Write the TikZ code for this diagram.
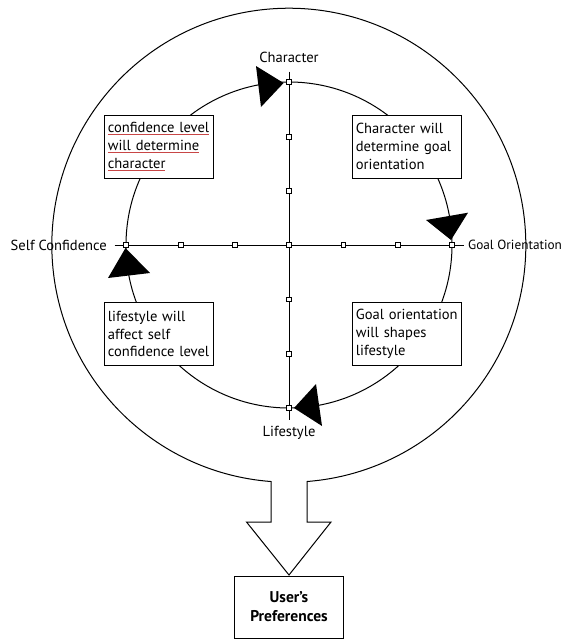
\documentclass[tikz,border=0pt]{standalone}
\usepackage{fontspec}
\setmainfont{PT Sans}
\definecolor{spellred}{RGB}{200,70,70}
\newcommand{\spellul}[1]{\textcolor{spellred}{\underline{\textcolor{black}{#1}}}}
\begin{document}
\begin{tikzpicture}[scale=0.35]
  \tikzstyle{every node}+=[inner sep=0pt, font=\fontsize{14.5}{17.7}\selectfont]
  \tikzstyle{note}=[draw=black, fill=white, line width=0.8pt, text width=3.58cm, inner xsep=0.125cm, minimum height=2.2cm, align=left]
  \tikzstyle{tick}=[draw=black, fill=white, line width=0.6pt, minimum size=0.17cm]
  \tikzstyle{head}=[fill=black]
  \useasboundingbox (0,0) rectangle (57,-63.9);
  % outer ring with the big arrow
  \draw [black, line width=1pt] (27.1,-48.15) -- (27.1,-52.2) -- (24.65,-52.2) -- (28.9,-57.5)
    -- (33.1,-52.2) -- (30.7,-52.2) -- (30.7,-48.15) arc[start angle=-85.6, end angle=265.6, radius=23.7] -- cycle;
  % inner cycle
  \draw [black, line width=1pt] (28.9,-24.5) circle (16.3);
  \coordinate (west) at (11.45,-24.5);
  \coordinate (east) at (46.35,-24.5);
  \coordinate (north) at (28.9,-7.15);
  \coordinate (south) at (28.9,-42);
  \draw [black, line width=0.9pt] (west) -- (east);
  \draw [black, line width=0.9pt] (north) -- (south);
  \foreach \i in {-3,...,3}
    \node [tick] (h\i) at (28.9+5.43*\i,-24.5) {};
  \foreach \i in {-3,-2,-1,1,2,3}
    \node [tick] (v\i) at (28.9,-24.5-5.43*\i) {};
  % arrowheads on the cycle
  \fill [head] (25.6,-6.6) -- (28.36,-8.3) -- (26.1,-10.7) -- cycle;
  \fill [head] (42.6,-22.0) -- (46.8,-21.27) -- (45.1,-24.0) -- cycle;
  \fill [head] (12.55,-24.8) -- (10.8,-27.8) -- (15.0,-27.3) -- cycle;
  \fill [head] (29.4,-40.8) -- (31.6,-38.4) -- (32.2,-42.6) -- cycle;
  % labels
  \node (character) at (28.9,-5.7) {Character};
  \node [anchor=east] (selfconf) at (10.7,-24.5) {Self Confidence};
  \node [anchor=west, font=\fontsize{13.2}{17.7}\selectfont] (goal) at (46.8,-24.5) {Goal Orientation};
  \node (lifestyle) at (28.9,-43.3) {Lifestyle};
  % notes
  \node [note] (confnote) at (15.9,-14.65) {\spellul{confidence level}\\\spellul{will determine}\\\spellul{character}};
  \node [note] (charnote) at (40.7,-14.65) {Character will\\determine goal\\orientation};
  \node [note] (lifenote) at (15.9,-33.4) {lifestyle will\\affect self\\confidence level};
  \node [note] (goalnote) at (40.7,-33.4) {Goal orientation\\will shapes\\lifestyle};
  \node [draw=black, fill=white, line width=0.8pt, minimum width=3.8cm, minimum height=2.17cm, align=center, font=\fontsize{15.5}{19}\selectfont\bfseries] (prefs) at (28.9,-60.7) {User’s\\Preferences};
\end{tikzpicture}
\end{document}
